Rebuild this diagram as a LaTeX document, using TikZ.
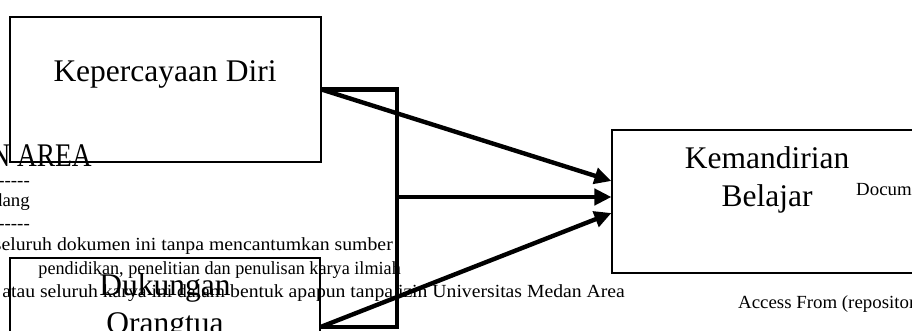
\documentclass[tikz,border=0pt]{standalone}
\usepackage{fontspec}
\setmainfont{Liberation Serif}
\newfontfamily\wmfont[FakeStretch=1.02]{Liberation Serif}
\newfontfamily\wmbigfont{Liberation Serif}
\usetikzlibrary{arrows.meta,calc}
\begin{document}
\begin{tikzpicture}[x=1pt,y=-1pt,
  box/.style={draw, line width=1.1pt, rectangle, inner sep=0pt},
  lbl/.style={font=\fontsize{31.5}{38}\selectfont, inner sep=0pt},
  thickline/.style={line width=4.4pt, line join=miter},
  arr/.style={line width=4.4pt, -{Triangle[length=17pt,width=16pt]}},
  wm/.style={font=\wmfont\fontsize{18.5}{22}\selectfont, inner sep=0pt},
  wmbig/.style={font=\wmbigfont\fontsize{33}{40}\selectfont, inner sep=0pt}]
\clip (0,0) rectangle (912,331);
\fill[white] (0,0) rectangle (912,331);
% watermark text
\node[wmbig, anchor=base east] (w1) at (92,167) {\scalebox{0.83}[1]{UNIVERSITAS MEDAN AREA}};
\node[wm, anchor=base east] (w2) at (30,186) {------------------------------};
\node[wm, anchor=base east] (w3) at (30,207) {Dilindungi Undang-Undang};
\node[wm, anchor=base east] (w4) at (30,229.5) {------------------------------};
\node[wm, anchor=base east] (w5) at (393,250.5) {\scalebox{1.047}[1]{seluruh dokumen ini tanpa mencantumkan sumber}};
\node[wm, anchor=base east] (w6) at (401,274) {\scalebox{0.963}[1]{pendidikan, penelitian dan penulisan karya ilmiah}};
\node[wm, anchor=base east] (w7) at (625,297) {\scalebox{1.043}[1]{atau seluruh karya ini dalam bentuk apapun tanpa izin Universitas Medan Area}};
\node[wm, anchor=base west] (w8) at (856,196) {Document Accepted};
\node[wm, anchor=base west] (w9) at (738,308) {Access From (repository.uma.ac.id)};
% boxes
\node[box, minimum width=311pt, minimum height=145pt] (A) at (165.5,89.5) {};
\node[box, minimum width=310pt, minimum height=138pt] (B) at (165,327) {};
\node[box, minimum width=400pt, minimum height=143pt] (C) at (812,201.5) {};
% labels
\node[lbl, anchor=base] (tA) at (165,82) {Kepercayaan Diri};
\node[lbl, anchor=base] (tB1) at (165,295) {Dukungan};
\node[lbl, anchor=base] (tB2) at (165,333) {Orangtua};
\node[lbl, anchor=base] (tC1) at (767,168) {Kemandirian};
\node[lbl, anchor=base] (tC2) at (767,206) {Belajar};
% connectors
\coordinate (bb) at (397,327);
\coordinate (J) at (397,197);
\draw[thickline] (A.east) -| (bb) -- (B.east);
\draw[arr] (A.east) -- ([yshift=20.5pt]C.west);
\draw[arr] (J) -- ([yshift=4.5pt]C.west);
\draw[arr] (B.east) -- ([yshift=-11.5pt]C.west);
\end{tikzpicture}
\end{document}
